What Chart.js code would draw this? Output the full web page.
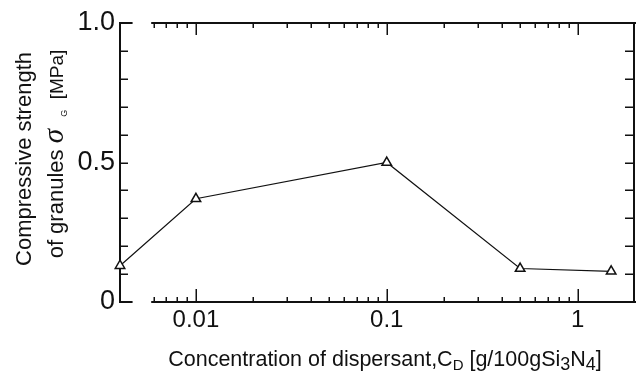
<!DOCTYPE html>
<html>
<head>
<meta charset="utf-8">
<script src="https://cdn.jsdelivr.net/npm/chart.js@4.4.1/dist/chart.umd.min.js"></script>
<style>
  html, body { margin: 0; padding: 0; background: #fff; }
  canvas { display: block; }
</style>
</head>
<body>
<canvas id="strengthChart" width="642" height="372"></canvas>
<script>
// Dispersant concentration [g/100g Si3N4] vs. compressive strength of granules [MPa]
const concentrations = [0.004, 0.01, 0.1, 0.5, 1.5];
const strengths = [0.13, 0.37, 0.50, 0.12, 0.11];

// Labelled ticks
const xTickLabels = [0.01, 0.1, 1];
const yTickLabels = [0, 0.5, 1.0];

// Unlabelled ticks on the frame
const xMinorTicks = [0.006, 0.007, 0.008, 0.009,
    0.02, 0.03, 0.04, 0.05, 0.06, 0.07, 0.08, 0.09,
    0.2, 0.3, 0.4, 0.5, 0.6, 0.7, 0.8, 0.9];
const yFrameTicks = [0.1, 0.2, 0.3, 0.4, 0.5, 0.6, 0.7, 0.8, 0.9];

const INK = '#111';
const SANS = '"Liberation Sans", Arial, Helvetica, sans-serif';

// Draws a sequence of text pieces (for subscripts) centred on x along one baseline
function drawRuns(ctx, runs, x, y) {
    let total = 0;
    runs.forEach(r => {
        ctx.font = r.font;
        r.w = ctx.measureText(r.text).width;
        total += r.w;
    });
    let cx = x - total / 2;
    runs.forEach(r => {
        ctx.font = r.font;
        ctx.fillText(r.text, cx, y + (r.dy || 0));
        cx += r.w;
    });
}

const framePlugin = {
    id: 'frame',
    beforeDatasetsDraw(chart) {
        const { ctx, chartArea: a, scales: { x, y } } = chart;
        ctx.save();
        ctx.strokeStyle = INK;
        ctx.lineCap = 'square';

        // Box with a small break near the left end of top and bottom edges
        const stubEnd = x.getPixelForValue(0.0046);
        const edgeStart = x.getPixelForValue(0.0059);
        ctx.lineWidth = 2;
        ctx.beginPath();
        ctx.moveTo(a.left, a.top); ctx.lineTo(a.left, a.bottom);
        ctx.moveTo(a.left, a.top); ctx.lineTo(stubEnd, a.top);
        ctx.moveTo(a.left, a.bottom); ctx.lineTo(stubEnd, a.bottom);
        ctx.moveTo(edgeStart, a.top); ctx.lineTo(a.right, a.top);
        ctx.moveTo(edgeStart, a.bottom); ctx.lineTo(a.right, a.bottom);
        ctx.moveTo(a.right - 1, a.top); ctx.lineTo(a.right - 1, a.bottom);
        ctx.stroke();

        // Inward ticks
        ctx.lineWidth = 1.5;
        ctx.lineCap = 'butt';
        ctx.beginPath();
        yFrameTicks.forEach(v => {
            const py = Math.round(y.getPixelForValue(v)) + 0.25;
            ctx.moveTo(a.left, py); ctx.lineTo(a.left + 8, py);
            ctx.moveTo(a.right, py); ctx.lineTo(a.right - 10, py);
        });
        xMinorTicks.forEach(v => {
            const px = Math.round(x.getPixelForValue(v)) + 0.25;
            ctx.moveTo(px, a.bottom); ctx.lineTo(px, a.bottom - 5);
            ctx.moveTo(px, a.top); ctx.lineTo(px, a.top + 5);
        });
        xTickLabels.forEach(v => {
            const px = Math.round(x.getPixelForValue(v)) + 0.25;
            ctx.moveTo(px, a.bottom); ctx.lineTo(px, a.bottom - 13);
            ctx.moveTo(px, a.top); ctx.lineTo(px, a.top + 12);
        });
        ctx.stroke();
        ctx.restore();
    },
    afterDraw(chart) {
        const { ctx } = chart;
        ctx.save();
        ctx.fillStyle = INK;
        ctx.textBaseline = 'alphabetic';

        // x-axis title
        drawRuns(ctx, [
            { text: 'Concentration of dispersant,C', font: `21.5px ${SANS}` },
            { text: 'D', font: `15px ${SANS}`, dy: 4 },
            { text: ' [g/100gSi', font: `21.5px ${SANS}` },
            { text: '3', font: `18px ${SANS}`, dy: 4 },
            { text: 'N', font: `21.5px ${SANS}` },
            { text: '4', font: `18px ${SANS}`, dy: 4 },
            { text: ']', font: `21.5px ${SANS}` }
        ], 385, 366);

        // y-axis title, two rotated lines
        ctx.save();
        ctx.translate(31, 159);
        ctx.rotate(-Math.PI / 2);
        drawRuns(ctx, [{ text: 'Compressive strength', font: `22px ${SANS}` }], 0, 0);
        ctx.restore();

        ctx.save();
        ctx.translate(63, 154);
        ctx.rotate(-Math.PI / 2);
        drawRuns(ctx, [
            { text: 'of granules ', font: `22px ${SANS}` },
            { text: 'σ', font: `italic 29px "Liberation Serif", serif` },
            { text: '  ', font: `22px ${SANS}` },
            { text: 'G', font: `9px ${SANS}`, dy: 4 },
            { text: '  [MPa]', font: `19px ${SANS}` }
        ], 0, 0);
        ctx.restore();

        ctx.restore();
    }
};

new Chart(document.getElementById('strengthChart'), {
    type: 'line',
    data: {
        datasets: [{
            data: concentrations.map((c, i) => ({ x: c, y: strengths[i] })),
            borderColor: INK,
            borderWidth: 1.2,
            pointStyle: 'triangle',
            pointRadius: 5.5,
            pointBorderWidth: 1.5,
            pointBackgroundColor: '#fff',
            pointBorderColor: INK,
            tension: 0,
            clip: false
        }]
    },
    options: {
        responsive: false,
        animation: false,
        events: [],
        layout: { padding: { top: 23, right: 1, left: 0, bottom: 0 } },
        plugins: {
            legend: { display: false },
            tooltip: { enabled: false }
        },
        scales: {
            x: {
                type: 'logarithmic',
                min: 0.004,
                max: 2,
                afterBuildTicks: scale => {
                    scale.ticks = xTickLabels.map(v => ({ value: v }));
                },
                afterFit: scale => { scale.height = 70; },
                grid: { display: false, drawTicks: false },
                border: { display: false },
                ticks: {
                    padding: 4,
                    color: INK,
                    font: { family: SANS, size: 24 },
                    maxRotation: 0,
                    autoSkip: false,
                    callback: v => String(v)
                }
            },
            y: {
                type: 'linear',
                min: 0,
                max: 1,
                afterBuildTicks: scale => {
                    scale.ticks = yTickLabels.map(v => ({ value: v }));
                },
                afterFit: scale => { scale.width = 120; },
                grid: { display: false, drawTicks: false },
                border: { display: false },
                ticks: {
                    padding: 5,
                    color: INK,
                    font: { family: SANS, size: 27 },
                    callback: v => (v === 0 ? '0' : v.toFixed(1))
                }
            }
        }
    },
    plugins: [framePlugin]
});
</script>
</body>
</html>
